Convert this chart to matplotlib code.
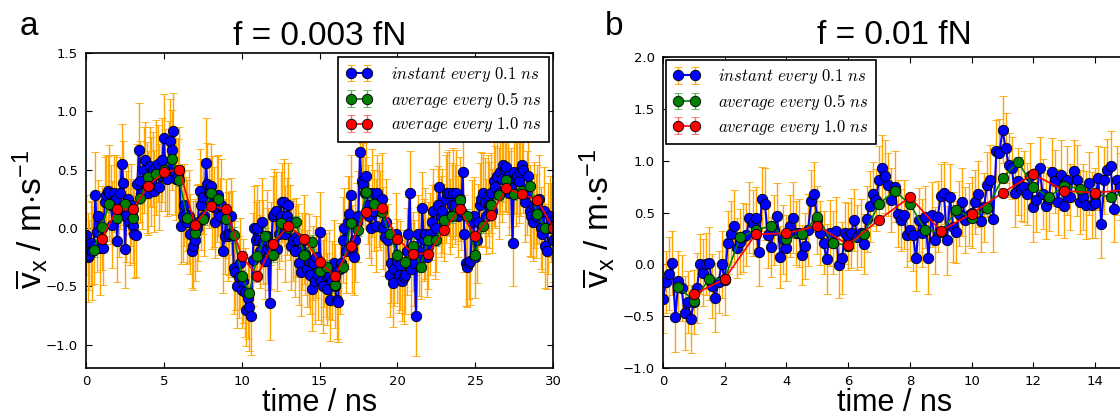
import numpy as np
import matplotlib
matplotlib.use("Agg")
import matplotlib.pyplot as plt
from matplotlib.font_manager import FontProperties

# ---------------------------------------------------------------- panel a data
# instantaneous values every 0.1 ns, t = 0 .. 30 ns
a_blue = [
    -0.06, -0.25, -0.23, -0.13, -0.20, -0.15, 0.28, -0.03, 0.10, -0.17,
    0.00, -0.17, 0.22, 0.28, 0.32, 0.30, 0.20, 0.03, 0.30, 0.25,
    -0.11, 0.15, 0.30, 0.55, 0.39, -0.18, 0.10, 0.25, 0.05, 0.20,
    0.02, -0.05, -0.06, 0.38, 0.67, 0.40, 0.30, 0.50, 0.58, 0.35,
    0.30, 0.53, 0.40, 0.50, 0.32, 0.52, 0.55, 0.35, 0.45, 0.58,
    0.77, 0.50, 0.42, 0.52, 0.75, 0.67, 0.83, 0.48, 0.42, 0.45,
    0.50, 0.02, 0.10, 0.20, 0.12, 0.05, 0.10, -0.05, -0.20, -0.15,
    -0.10, 0.00, 0.05, 0.32, 0.20, 0.27, 0.10, 0.56, 0.38, 0.30,
    0.36, 0.22, 0.18, 0.05, 0.25, 0.28, 0.10, 0.20, -0.20, -0.07,
    0.08, -0.07, -0.05, 0.10, -0.05, -0.34, -0.38, -0.50, -0.42, -0.30,
    -0.53, -0.45, -0.55, -0.70, -0.60, -0.68, -0.75, -0.27, 0.00, -0.10,
    0.00, -0.10, -0.20, 0.05, -0.12, -0.28, -0.07, -0.18, -0.64, -0.15,
    0.10, 0.12, 0.15, -0.18, -0.05, 0.10, 0.22, 0.22, -0.05, 0.10,
    0.20, 0.05, -0.15, -0.10, -0.20, -0.08, -0.10, -0.30, -0.38, -0.20,
    -0.10, -0.22, -0.35, -0.28, -0.40, -0.52, -0.30, -0.45, -0.25, -0.40,
    -0.03, -0.45, -0.50, -0.35, -0.40, -0.52, -0.40, -0.62, -0.45, -0.30,
    -0.50, -0.62, -0.63, -0.35, -0.30, -0.10, 0.00, -0.20, 0.05, 0.12,
    0.28, -0.18, -0.25, -0.10, 0.05, 0.10, 0.65, 0.40, 0.38, 0.30,
    0.45, 0.20, 0.10, 0.00, 0.30, 0.15, 0.02, 0.30, 0.20, 0.15,
    0.25, 0.00, -0.08, 0.05, -0.10, -0.40, -0.30, -0.47, -0.35, -0.05,
    -0.28, -0.40, -0.32, -0.45, -0.42, -0.40, -0.20, -0.05, 0.30, -0.35,
    -0.20, -0.30, -0.75, -0.05, -0.20, -0.25, 0.17, -0.10, -0.05, -0.25,
    -0.15, -0.05, 0.05, 0.15, -0.10, 0.00, 0.20, 0.35, 0.10, 0.15,
    0.05, 0.25, 0.30, 0.30, 0.10, 0.20, 0.30, 0.20, 0.30, 0.10,
    0.25, 0.15, 0.48, -0.05, -0.30, -0.33, -0.30, -0.28, 0.05, 0.10,
    -0.25, -0.10, 0.05, 0.20, 0.25, 0.30, 0.22, 0.10, 0.28, 0.20,
    0.30, 0.15, 0.40, 0.35, 0.45, 0.30, 0.48, 0.42, 0.54, 0.50,
    0.52, 0.45, 0.30, 0.35, -0.13, 0.48, 0.42, 0.45, 0.40, 0.48,
    0.54, 0.50, 0.22, 0.30, 0.45, 0.15, 0.10, 0.05, 0.20, 0.10,
    0.20, 0.25, 0.00, -0.05, 0.15, -0.15, -0.20, 0.00, 0.10, 0.05, -0.10,
]
a_blue_err = [
    0.34, 0.38, 0.30, 0.36, 0.42, 0.33, 0.37, 0.35, 0.31, 0.40,
    0.36, 0.32, 0.39, 0.35, 0.30, 0.41, 0.34, 0.37, 0.33, 0.38,
    0.35, 0.40, 0.31, 0.34, 0.36, 0.33, 0.39, 0.30, 0.37, 0.35,
    0.32, 0.38, 0.36, 0.34, 0.40, 0.35, 0.31, 0.37, 0.33, 0.39,
    0.36, 0.34, 0.38, 0.32, 0.35, 0.41, 0.33, 0.37, 0.30, 0.36,
    0.38, 0.35, 0.32, 0.40, 0.36, 0.34, 0.33, 0.37, 0.35, 0.31,
    0.37, 0.33, 0.39, 0.35, 0.32, 0.36, 0.40, 0.34, 0.31, 0.38,
    0.35, 0.37, 0.33, 0.36, 0.39, 0.32, 0.34, 0.38, 0.35, 0.30,
    0.36, 0.40, 0.34, 0.31, 0.37, 0.35, 0.33, 0.39, 0.36, 0.32,
    0.34, 0.38, 0.35, 0.33, 0.37, 0.40, 0.32, 0.36, 0.35, 0.39,
    0.33, 0.36, 0.38, 0.31, 0.35, 0.37, 0.34, 0.40, 0.36, 0.32,
    0.37, 0.34, 0.31, 0.38, 0.36, 0.33, 0.40, 0.35, 0.32, 0.37,
    0.35, 0.39, 0.33, 0.36, 0.30, 0.38, 0.34, 0.37, 0.41, 0.33,
    0.36, 0.32, 0.38, 0.35, 0.39, 0.34, 0.31, 0.36, 0.37, 0.33,
    0.38, 0.35, 0.33, 0.40, 0.34, 0.36, 0.32, 0.37, 0.35, 0.39,
    0.34, 0.37, 0.40, 0.33, 0.36, 0.31, 0.38, 0.35, 0.34, 0.37,
    0.36, 0.33, 0.35, 0.39, 0.32, 0.37, 0.34, 0.36, 0.40, 0.33,
    0.35, 0.38, 0.32, 0.36, 0.34, 0.39, 0.37, 0.33, 0.35, 0.31,
    0.37, 0.34, 0.36, 0.32, 0.38, 0.35, 0.40, 0.33, 0.36, 0.34,
    0.39, 0.35, 0.33, 0.37, 0.31, 0.36, 0.34, 0.38, 0.32, 0.35,
    0.36, 0.33, 0.38, 0.35, 0.40, 0.34, 0.37, 0.32, 0.36, 0.39,
    0.34, 0.37, 0.35, 0.33, 0.38, 0.36, 0.31, 0.35, 0.39, 0.34,
    0.37, 0.35, 0.32, 0.36, 0.34, 0.38, 0.33, 0.40, 0.35, 0.36,
    0.33, 0.38, 0.35, 0.37, 0.32, 0.36, 0.39, 0.34, 0.37, 0.35,
    0.36, 0.34, 0.39, 0.33, 0.37, 0.35, 0.31, 0.38, 0.36, 0.34,
    0.35, 0.37, 0.33, 0.36, 0.40, 0.34, 0.38, 0.32, 0.35, 0.37,
    0.34, 0.36, 0.38, 0.35, 0.33, 0.39, 0.36, 0.37, 0.32, 0.35,
    0.38, 0.33, 0.36, 0.34, 0.37, 0.35, 0.40, 0.33, 0.36, 0.38,
    0.35, 0.37, 0.34, 0.36, 0.32, 0.39, 0.35, 0.33, 0.37, 0.36,
    0.34, 0.38, 0.35, 0.33, 0.37, 0.36, 0.32, 0.39, 0.35, 0.34, 0.36,
]
# averages every 0.5 ns (t = 0.5 .. 29.5) and every 1 ns (t = 1 .. 30)
a_green = [
    -0.19, 0.01, 0.21, 0.09, 0.21, 0.09, 0.26, 0.44, 0.46, 0.50,
    0.59, 0.41, 0.09, -0.04, 0.08, 0.30, 0.25, 0.08, -0.06, -0.41,
    -0.56, -0.24, -0.07, -0.23, 0.04, 0.00, 0.05, -0.23, -0.12, -0.37,
    -0.33, -0.49, -0.33, 0.04, -0.02, 0.31, 0.21, 0.14, -0.05, -0.23,
    -0.29, -0.15, -0.33, -0.10, -0.10, 0.07, 0.10, 0.24, 0.10, -0.23,
    0.02, 0.20, 0.28, 0.41, 0.29, 0.32, 0.36, 0.12, 0.00,
]
a_green_err = [
    0.06, 0.05, 0.07, 0.05, 0.06, 0.07, 0.05, 0.06, 0.05, 0.07,
    0.06, 0.05, 0.06, 0.07, 0.05, 0.06, 0.05, 0.06, 0.07, 0.05,
    0.06, 0.05, 0.07, 0.06, 0.05, 0.06, 0.05, 0.07, 0.06, 0.05,
    0.06, 0.07, 0.05, 0.06, 0.05, 0.06, 0.07, 0.05, 0.06, 0.05,
    0.07, 0.06, 0.05, 0.06, 0.05, 0.07, 0.06, 0.05, 0.06, 0.05,
    0.06, 0.07, 0.05, 0.06, 0.05, 0.06, 0.07, 0.05, 0.06,
]
a_red = [
    -0.09, 0.16, 0.16, 0.36, 0.48, 0.50, 0.03, 0.19, 0.16, -0.24,
    -0.41, -0.14, 0.02, -0.09, -0.29, -0.41, -0.15, 0.14, 0.17, -0.09,
    -0.22, -0.22, -0.02, 0.16, -0.07, 0.11, 0.34, 0.29, 0.24, 0.00,
]
a_red_err = [
    0.04, 0.05, 0.04, 0.03, 0.05, 0.04, 0.04, 0.03, 0.05, 0.04,
    0.05, 0.04, 0.03, 0.04, 0.05, 0.04, 0.04, 0.05, 0.03, 0.04,
    0.04, 0.05, 0.04, 0.03, 0.04, 0.05, 0.04, 0.04, 0.03, 0.04,
]

# ---------------------------------------------------------------- panel b data
b_blue = [
    -0.33, -0.17, -0.09, 0.01, -0.51, -0.16, -0.23, -0.47, -0.36, -0.53,
    -0.36, -0.23, 0.00, -0.08, 0.00, 0.01, -0.21, -0.32, -0.17, 0.00,
    -0.15, 0.21, 0.29, 0.37, 0.16, 0.22, 0.26, 0.28, 0.45, 0.40,
    0.45, 0.12, 0.63, 0.58, 0.28, 0.17, 0.33, 0.47, 0.07, 0.24,
    0.16, 0.37, 0.45, 0.30, 0.30, 0.09, 0.18, 0.33, 0.61, 0.68,
    0.43, 0.30, 0.21, 0.05, 0.30, 0.21, 0.32, -0.01, 0.06, 0.30,
    0.27, 0.30, 0.43, 0.26, 0.30, 0.20, 0.44, 0.56, 0.68, 0.62,
    0.81, 0.93, 0.85, 0.77, 0.62, 0.75, 0.49, 0.43, 0.48, 0.28,
    0.33, 0.28, 0.06, 0.43, 0.30, 0.46, 0.06, 0.48, 0.23, 0.46,
    0.66, 0.69, 0.23, 0.65, 0.36, 0.31, 0.49, 0.60, 0.43, 0.48,
    0.50, 0.60, 0.68, 0.42, 0.55, 0.77, 0.81, 0.44, 1.09, 1.07,
    1.30, 1.12, 0.96, 0.93, 0.69, 0.80, 0.73, 0.75, 0.68, 0.85,
    0.55, 0.62, 0.93, 0.68, 0.56, 0.63, 0.89, 0.80, 0.60, 0.86,
    0.56, 0.81, 0.65, 0.90, 0.81, 0.60, 0.65, 0.57, 0.78, 0.57,
    0.59, 0.83, 0.39, 0.81, 0.91, 0.95, 0.53, 0.81, 0.75, 0.70,
    0.72,
]
b_blue_err = [
    0.33, 0.30, 0.35, 0.31, 0.34, 0.29, 0.32, 0.36, 0.30, 0.33,
    0.31, 0.34, 0.29, 0.32, 0.30, 0.35, 0.31, 0.33, 0.30, 0.32,
    0.34, 0.30, 0.32, 0.35, 0.29, 0.31, 0.33, 0.30, 0.34, 0.32,
    0.30, 0.33, 0.31, 0.35, 0.32, 0.29, 0.34, 0.31, 0.30, 0.33,
    0.32, 0.30, 0.34, 0.31, 0.33, 0.29, 0.32, 0.35, 0.30, 0.31,
    0.33, 0.31, 0.30, 0.34, 0.32, 0.30, 0.33, 0.31, 0.35, 0.30,
    0.32, 0.34, 0.30, 0.31, 0.33, 0.29, 0.32, 0.34, 0.31, 0.30,
    0.33, 0.32, 0.35, 0.30, 0.31, 0.34, 0.32, 0.30, 0.33, 0.31,
    0.30, 0.34, 0.32, 0.31, 0.33, 0.30, 0.35, 0.31, 0.32, 0.34,
    0.31, 0.30, 0.33, 0.32, 0.34, 0.30, 0.31, 0.33, 0.32, 0.30,
    0.34, 0.31, 0.32, 0.30, 0.33, 0.31, 0.34, 0.32, 0.30, 0.33,
    0.32, 0.34, 0.31, 0.30, 0.33, 0.32, 0.31, 0.34, 0.30, 0.32,
    0.33, 0.31, 0.30, 0.34, 0.32, 0.31, 0.33, 0.30, 0.32, 0.34,
    0.31, 0.33, 0.32, 0.30, 0.34, 0.31, 0.32, 0.33, 0.30, 0.32,
    0.34, 0.31, 0.33, 0.32, 0.30, 0.34, 0.31, 0.33, 0.32, 0.31,
    0.33,
]
b_green = [
    -0.22, -0.35, -0.14, -0.14, 0.26, 0.33, 0.37, 0.24, 0.29, 0.46,
    0.21, 0.18, 0.29, 0.58, 0.71, 0.58, 0.33, 0.31, 0.52, 0.45,
    0.54, 0.83, 0.99, 0.75, 0.65, 0.76, 0.73, 0.68, 0.65, 0.70,
]
b_green_err = [
    0.05, 0.04, 0.05, 0.04, 0.05, 0.04, 0.05, 0.04, 0.04, 0.05,
    0.04, 0.05, 0.04, 0.05, 0.04, 0.05, 0.04, 0.04, 0.05, 0.04,
    0.05, 0.04, 0.05, 0.04, 0.04, 0.05, 0.04, 0.05, 0.04, 0.04,
]
b_red = [-0.29, -0.14, 0.29, 0.30, 0.37, 0.19, 0.43, 0.65, 0.32, 0.49,
         0.69, 0.87, 0.71, 0.69, 0.72]
b_red_err = [0.03, 0.04, 0.03, 0.03, 0.04, 0.03, 0.03, 0.04, 0.03, 0.03,
             0.04, 0.03, 0.03, 0.04, 0.03]

LABELS = [r"$instant\ every\ 0.1\ ns$",
          r"$average\ every\ 0.5\ ns$",
          r"$average\ every\ 1.0\ ns$"]
YLABEL = r"$\overline{\mathrm{v}}_\mathrm{x}$ / m$\cdot$s$^{\mathrm{-1}}$"

plt.rcParams.update({
    "font.family": "DejaVu Sans",
    "xtick.direction": "in", "ytick.direction": "in",
    "xtick.top": True, "ytick.right": True,
    "xtick.major.size": 4, "ytick.major.size": 4,
    "xtick.major.pad": 5, "ytick.major.pad": 6,
    "xtick.labelsize": 9.5, "ytick.labelsize": 9.5,
    "axes.linewidth": 1.2,
    "mathtext.fontset": "custom",
    "mathtext.rm": "Liberation Sans",
    "mathtext.it": "Liberation Sans:italic",
    "mathtext.bf": "Liberation Sans:bold",
})
BIG = dict(family="Liberation Sans", size=24)
XLAB = dict(family="Liberation Sans", size=22)


def draw_panel(ax, blue, blue_err, green, green_err, red, red_err):
    t_blue = np.arange(len(blue)) * 0.1
    t_green = (np.arange(len(green)) + 1) * 0.5
    t_red = np.arange(len(red)) + 1.0
    ax.errorbar(t_blue, blue, yerr=blue_err, fmt="-o", color="b", lw=1.5,
                ms=7.5, mec="k", mew=0.6, ecolor="orange", elinewidth=1,
                capsize=3, capthick=1, label=LABELS[0])
    ax.errorbar(t_green, green, yerr=green_err, fmt="-o", color="#008000",
                lw=1.2, ms=7.5, mec="k", mew=0.6, ecolor=(0.3, 0.7, 0.3),
                elinewidth=1, capsize=3, capthick=1, label=LABELS[1])
    ax.errorbar(t_red, red, yerr=red_err, fmt="-o", color="r", lw=1.2,
                ms=7.5, mec="k", mew=0.6, ecolor=(1.0, 0.4, 0.4),
                elinewidth=1, capsize=3, capthick=1, label=LABELS[2])


def add_legend(ax, loc, pad):
    leg = ax.legend(loc=loc, numpoints=2, fancybox=False, edgecolor="k",
                    framealpha=1, borderaxespad=pad, handlelength=1.6,
                    handletextpad=1.1, labelspacing=0.35, borderpad=0.45,
                    prop=FontProperties(size=12, math_fontfamily="cm"))
    leg.get_frame().set_linewidth(1.2)


fig = plt.figure(figsize=(11.2, 4.18), dpi=100)
W, H = 1120.0, 418.0

# panel a
ax_a = fig.add_axes([86 / W, 1 - 368 / H, 467 / W, 315 / H])
draw_panel(ax_a, a_blue, a_blue_err, a_green, a_green_err, a_red, a_red_err)
ax_a.set_xlim(0, 30)
ax_a.set_ylim(-1.2, 1.5)
ax_a.set_xticks(np.arange(0, 31, 5))
ax_a.set_yticks(np.arange(-1.0, 1.51, 0.5))
ax_a.set_title("f = 0.003 fN", fontdict=BIG, pad=6)
ax_a.set_xlabel("time / ns", fontdict=XLAB, labelpad=0)
ax_a.set_ylabel(YLABEL, fontdict=BIG)
ax_a.yaxis.set_label_coords(-0.077, 0.47)
add_legend(ax_a, "upper right", 0.25)

# panel b (its right edge lies just past the picture border)
ax_b = fig.add_axes([663 / W, 1 - 368 / H, 463 / W, 311 / H])
draw_panel(ax_b, b_blue, b_blue_err, b_green, b_green_err, b_red, b_red_err)
ax_b.set_xlim(0, 15)
ax_b.set_ylim(-1.0, 2.0)
ax_b.set_xticks(np.arange(0, 15, 2))
ax_b.set_yticks(np.arange(-1.0, 2.01, 0.5))
ax_b.set_title("f = 0.01 fN", fontdict=BIG, pad=9)
ax_b.set_xlabel("time / ns", fontdict=XLAB, labelpad=0)
ax_b.set_ylabel(YLABEL, fontdict=BIG)
ax_b.yaxis.set_label_coords(-0.099, 0.48)
add_legend(ax_b, "upper left", 0.15)

fig.text(20 / W, 1 - 35 / H, "a", family="Liberation Sans", size=24)
fig.text(605 / W, 1 - 35 / H, "b", family="Liberation Sans", size=24)

fig.savefig("out.png", dpi=100, facecolor="white")
